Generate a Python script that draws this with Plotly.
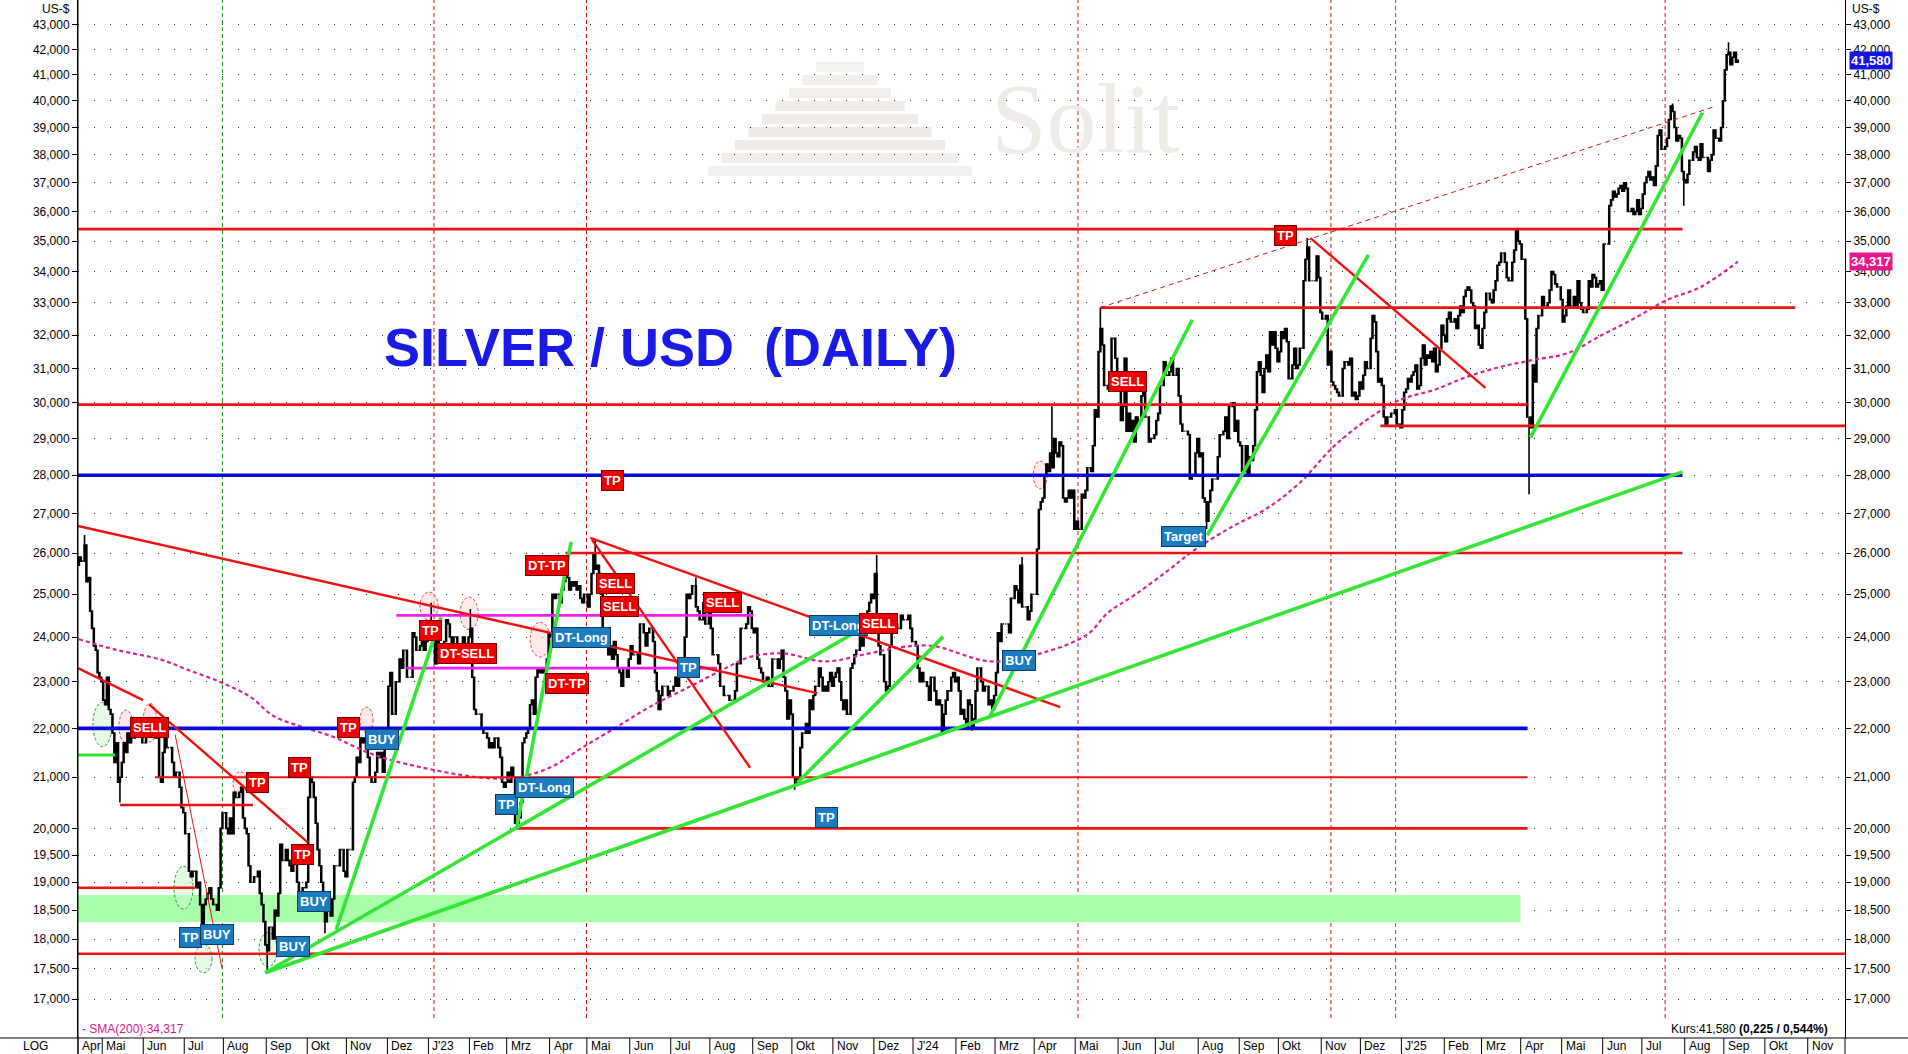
import numpy as np
import pandas as pd
import plotly.graph_objects as go

FONT = "Liberation Sans, Arial, Helvetica, sans-serif"

# ---------------- daily closes (US$/oz), one value per weekday ----------------
closes_2022 = [
    25.9, 25.8, 25.8, 26.2, 25.3, 25.4, 24.6, 24.2, 23.8, 23.7, 23.2, 23.1, 23.0,
    22.6, 22.5, 23.1, 22.4, 22.3, 21.9, 21.3, 21.7, 20.9, 21.0, 21.3, 21.7, 21.5, 21.9, 21.7, 21.8, 21.8, 22.0, 22.0, 22.2, 22.1, 21.7,
    21.7, 22.2, 22.0, 22.1, 22.1, 22.1, 21.8, 21.9, 21.0, 20.9, 21.5, 21.9, 21.6, 21.6, 21.6, 21.3, 21.0, 21.1, 21.1, 20.8, 20.4, 20.3,
    19.9, 19.9, 19.2, 19.1, 19.2, 19.2, 18.9, 19.0, 18.6, 18.2, 18.6, 18.7, 18.8, 18.9, 18.7, 18.6, 18.6, 18.5, 18.9, 20.0, 20.3,
    20.3, 20.0, 19.9, 20.2, 19.9, 20.7, 20.6, 20.6, 20.7, 20.8, 20.2, 20.0, 19.9, 19.3, 19.0, 19.0, 19.1, 19.1, 19.2, 18.8, 18.6, 18.3, 17.9,
    17.8, 18.2, 18.2, 18.0, 18.5, 18.4, 18.8, 19.7, 19.4, 19.4, 19.6, 19.4, 19.3, 19.2, 19.6, 19.6, 19.0, 18.5, 18.6, 18.9, 18.9, 19.0,
    20.6, 21.0, 20.9, 20.6, 20.1, 19.6, 19.3, 19.0, 18.8, 18.3, 18.8, 18.7, 18.4, 18.7, 19.3, 19.3, 19.3, 19.6, 19.6, 19.2, 19.1,
    19.6, 19.6, 19.6, 20.9, 21.0, 21.4, 21.3, 21.8, 21.7, 21.8, 21.6, 21.4, 21.0, 20.9, 20.9, 21.1, 21.5, 21.4, 21.5, 21.1, 21.6, 22.0,
    22.9, 23.2, 22.3, 22.3, 23.0, 23.0, 23.5, 23.3, 23.7, 23.7, 23.1, 23.1, 23.1, 24.1, 24.0, 23.7, 23.7, 23.8, 24.1, 23.7, 23.9, 24.0,
]
closes_2023 = [
    24.1, 24.3, 24.0, 23.4, 23.9, 23.8, 23.7, 23.5, 23.9, 24.4, 24.3, 24.0, 23.7, 24.0, 24.0, 23.7, 23.7, 23.7, 24.0, 23.7, 23.7, 24.0,
    24.2, 23.1, 22.4, 22.3, 22.3, 22.3, 22.0, 21.9, 21.9, 21.8, 21.6, 21.7, 21.6, 21.8, 21.8, 21.6, 21.4, 20.9, 20.8, 20.9,
    21.1, 20.9, 21.2, 21.0, 20.1, 20.1, 20.2, 20.5, 21.7, 21.8, 21.9, 22.0, 22.5, 22.6, 22.3, 23.1, 23.3, 23.2, 23.3, 23.2, 23.3, 23.5, 24.1,
    24.0, 25.0, 24.9, 25.0, 25.0, 24.8, 25.1, 25.3, 25.7, 25.4, 25.1, 25.3, 25.2, 25.3, 25.1, 25.2, 24.9, 24.8, 25.0, 25.0,
    24.7, 25.0, 25.5, 26.0, 25.6, 25.7, 25.5, 25.0, 23.9, 23.8, 23.9, 23.6, 23.8, 23.5, 23.9, 23.6, 23.3, 23.2, 22.9, 23.3, 23.3, 23.1, 23.5,
    23.8, 23.6, 23.6, 23.6, 23.4, 24.3, 24.3, 24.1, 23.8, 24.1, 24.2, 24.2, 23.9, 23.2, 22.8, 22.4, 22.7, 22.9, 22.9, 22.9, 22.7, 22.8,
    22.8, 22.9, 23.1, 22.9, 23.1, 23.1, 23.1, 24.0, 25.0, 24.9, 25.0, 25.2, 25.2, 24.7, 24.6, 24.4, 24.4, 24.8, 24.3, 24.3, 24.7,
    24.2, 23.6, 23.6, 23.6, 23.4, 22.9, 22.9, 22.7, 22.7, 22.7, 22.6, 22.6, 22.6, 22.8, 23.4, 23.4, 24.2, 24.2, 24.2, 24.3, 24.7, 24.6, 24.2,
    24.1, 24.2, 23.5, 23.3, 23.2, 23.0, 23.0, 23.1, 22.9, 22.9, 23.5, 23.5, 23.5, 23.3, 23.5, 23.7, 23.1, 22.8, 22.2, 22.6, 22.3,
    21.0, 21.0, 20.9, 21.0, 21.6, 21.9, 21.9, 22.1, 21.9, 22.6, 22.4, 22.7, 22.9, 22.9, 23.3, 23.1, 22.8, 22.9, 22.8, 23.0, 23.2, 22.9,
    23.1, 23.2, 23.3, 23.0, 22.6, 22.4, 22.6, 22.3, 22.3, 23.3, 23.4, 23.6, 23.7, 23.7, 24.0, 23.8, 24.0, 24.3, 24.6, 24.8, 25.0, 24.9,
    25.5, 24.4, 23.8, 23.6, 23.6, 23.0, 22.8, 22.9, 23.8, 24.1, 24.1, 24.3, 24.2, 24.2, 24.5, 24.4, 24.4, 24.4, 24.5, 24.2, 23.9,
]
closes_2024 = [
    23.9, 23.8, 23.3, 23.0, 23.2, 23.0, 23.0, 22.9, 22.6, 23.1, 23.1, 22.8, 22.5, 22.6, 22.5, 21.9, 22.3, 22.6, 22.8, 22.8, 23.1, 23.2, 23.0,
    23.1, 22.8, 22.3, 22.4, 22.2, 22.0, 22.6, 22.5, 22.0, 22.2, 22.8, 23.3, 23.3, 23.0, 22.8, 22.9, 22.9, 22.5, 22.6, 22.4, 22.7,
    23.2, 24.1, 23.9, 24.3, 24.3, 24.3, 24.3, 24.1, 24.9, 24.9, 25.2, 25.1, 24.8, 25.7, 24.7, 24.7, 24.7, 24.4, 24.6, 25.0, 25.0,
    25.0, 26.1, 27.1, 27.3, 27.4, 28.0, 28.3, 28.1, 28.6, 28.2, 29.0, 28.6, 28.5, 28.9, 28.8, 27.4, 27.3, 27.4, 27.6, 27.4, 27.6, 26.6,
    26.8, 26.6, 26.6, 27.5, 27.4, 27.6, 28.2, 28.2, 28.1, 28.8, 29.8, 29.6, 31.5, 32.2, 31.7, 30.5, 30.5, 30.4, 30.9, 31.9, 31.9, 31.3, 30.4,
    30.4, 29.5, 29.9, 31.3, 29.2, 29.7, 29.2, 29.5, 28.9, 29.6, 29.4, 29.5, 30.2, 30.9, 29.6, 29.6, 28.9, 29.0, 29.0, 29.1,
    29.5, 29.7, 30.5, 30.5, 31.2, 30.8, 30.8, 30.9, 31.3, 30.8, 30.8, 31.0, 30.2, 29.4, 29.2, 29.2, 29.2, 29.1, 27.9, 28.0, 28.0, 28.6, 29.0,
    28.5, 28.6, 27.4, 27.3, 26.8, 27.3, 27.6, 27.9, 27.9, 27.9, 28.5, 29.1, 29.1, 29.2, 29.6, 29.0, 29.9, 29.9, 30.0, 29.2, 29.5, 28.9,
    28.8, 28.1, 28.1, 28.8, 28.0, 28.5, 28.4, 28.8, 29.8, 30.9, 31.2, 30.8, 30.3, 31.0, 31.4, 30.9, 32.1, 31.7, 32.1, 31.6, 31.2,
    31.5, 32.1, 31.9, 32.2, 31.8, 30.7, 30.7, 31.1, 31.6, 31.0, 31.1, 31.6, 31.6, 33.7, 34.4, 34.8, 33.7, 33.7, 33.7, 33.7, 34.5, 33.8, 32.7,
    32.5, 32.5, 32.6, 31.1, 31.5, 30.6, 30.5, 30.4, 30.3, 30.2, 30.2, 31.0, 31.2, 31.2, 31.1, 31.3, 30.2, 30.3, 30.1, 30.2, 30.6,
    30.4, 30.8, 31.2, 31.0, 31.0, 31.9, 32.6, 32.4, 31.5, 30.6, 30.7, 30.5, 29.6, 29.4, 29.6, 29.6, 29.7, 29.7, 29.8, 29.4, 29.4, 29.3,
]
closes_2025 = [
    29.8, 30.3, 30.4, 30.7, 30.6, 30.8, 30.9, 31.1, 30.4, 30.5, 31.3, 31.7, 31.1, 31.4, 31.3, 31.5, 31.2, 31.6, 30.9, 31.1, 31.6, 32.3, 32.0,
    31.8, 32.5, 32.7, 32.4, 32.4, 32.5, 32.2, 32.6, 32.9, 32.7, 33.2, 33.4, 33.5, 33.4, 33.0, 32.9, 32.2, 32.3, 31.7, 31.6,
    32.2, 32.7, 33.3, 33.3, 33.1, 33.0, 33.4, 33.7, 34.2, 34.3, 34.6, 34.6, 34.3, 33.8, 33.7, 33.7, 34.3, 34.7, 35.4, 35.0, 34.9,
    34.4, 34.4, 32.5, 29.6, 29.6, 29.3, 31.1, 30.6, 32.2, 32.6, 32.6, 33.2, 32.9, 32.9, 33.0, 33.4, 34.0, 33.9, 33.6, 33.5, 33.5, 33.1,
    32.4, 32.6, 32.9, 33.4, 32.9, 32.9, 33.2, 32.9, 33.7, 33.0, 32.8, 32.7, 32.7, 32.8, 33.7, 33.5, 33.9, 33.8, 33.5, 33.6, 33.7, 33.4,
    34.9, 34.9, 34.9, 36.2, 36.4, 36.7, 36.5, 36.6, 36.8, 36.9, 36.7, 37.0, 36.8, 36.0, 36.0, 36.1, 35.9, 36.0, 36.4, 35.9, 36.1,
    36.6, 37.0, 37.2, 37.4, 37.1, 37.2, 36.9, 37.6, 38.7, 38.9, 38.2, 38.2, 38.3, 38.6, 39.3, 39.8, 39.6, 39.0, 38.5, 38.7, 38.6, 37.4, 37.1,
    37.0, 37.3, 37.8, 37.8, 38.1, 38.3, 37.9, 37.8, 38.4, 37.9, 37.9, 37.9, 37.4, 37.8, 38.0, 38.9, 38.6, 38.6, 38.5, 39.0, 40.0,
    41.2, 41.8, 41.9, 41.4, 41.7, 41.9, 41.5, 41.58,
]
first_open = 25.7
wick_high = {"2022-04-18": 26.45, "2023-01-03": 24.8, "2023-02-01": 24.65, "2023-05-05": 26.35,
             "2023-07-20": 25.4, "2023-12-04": 25.95, "2024-03-21": 25.9, "2024-04-12": 29.9,
             "2024-05-20": 32.85, "2024-10-22": 35.1, "2025-03-28": 35.45, "2025-07-23": 39.9,
             "2025-09-03": 42.3}
wick_low = {"2022-05-13": 20.5, "2022-07-14": 18.1, "2022-09-01": 17.45, "2022-10-14": 18.1,
            "2023-03-08": 20.0, "2023-10-03": 20.75, "2024-01-22": 21.9, "2024-02-13": 21.95,
            "2024-08-07": 26.6, "2025-04-07": 27.5, "2025-07-31": 36.2}

# SMA(200): (trading day number, value)
sma200_day = [0, 20, 44, 58, 76, 92, 104, 119, 136, 155, 172, 214, 234, 253, 270, 289, 306, 328, 347, 360,
              378, 400, 423, 441, 458, 489, 516, 541, 552, 566, 584, 598, 619, 637, 655, 673, 691, 709, 727, 745,
              763, 780, 799, 816, 834, 852, 870, 890]
sma200_val = [23.95, 23.71, 23.49, 23.27, 22.99, 22.67, 22.27, 22.04, 21.83, 21.50, 21.30, 21.00, 20.99, 21.20, 21.60,
              22.04, 22.45, 22.90, 23.30, 23.55, 23.63, 23.45, 23.62, 23.77, 23.80, 23.45, 23.63, 24.06, 24.56, 24.97,
              25.56, 26.06, 26.67, 27.12, 27.80, 28.77, 29.52, 30.09, 30.37, 30.76, 31.05, 31.25, 31.46, 31.97, 32.50,
              33.09, 33.50, 34.317]

last_price = 41.58
last_change = 0.225
last_change_pct = 0.544
sma_last = 34.317

y_tick_values = [17.0, 17.5, 18.0, 18.5, 19.0, 19.5, 20.0] + [float(v) for v in range(21, 44)]
month_abbr = {1: "J'", 2: "Feb", 3: "Mrz", 4: "Apr", 5: "Mai", 6: "Jun", 7: "Jul", 8: "Aug",
              9: "Sep", 10: "Okt", 11: "Nov", 12: "Dez"}

# drawn levels: (price, from day, to day)
red_levels = [(35.40, -0.5, 860.3), (32.85, 548.0, 920.8), (29.95, -0.5, 777.2), (29.35, 698.2, 947.5),
              (26.00, 261.0, 860.3), (20.00, 234.5, 777.2), (20.45, 22.0, 93.4), (18.90, -0.5, 62.3),
              (17.75, -0.5, 947.5)]
red_minor_levels = [(21.00, 40.8, 777.2)]
blue_levels = [(28.00, -0.5, 860.3), (22.00, -0.5, 777.2)]
magenta_levels = [(24.50, 170.3, 361.9), (23.30, 175.7, 342.3)]
green_levels = [(21.45, -0.5, 19.4)]
green_band = (18.29, 18.77, -0.5, 773.4)
# trend lines: (day0, price0, day1, price1)
red_trends = [(-0.5, 23.30, 34.4, 22.60), (37.6, 22.51, 122.9, 19.73), (-0.5, 26.68, 396.1, 22.75),
              (274.3, 26.38, 526.5, 22.45), (275.3, 26.33, 360.1, 21.19), (660.7, 35.10, 754.6, 30.43)]
red_thin_trends = [(51.6, 21.87, 76.8, 17.50)]
red_dashed_trends = [(548.0, 32.85, 876.9, 39.77)]
green_trends = [(99.9, 17.43, 416.5, 24.11), (99.9, 17.43, 860.3, 28.09), (138.0, 18.16, 194.3, 24.46),
                (235.1, 20.06, 264.1, 26.28), (385.4, 20.89, 463.7, 24.01), (488.9, 22.27, 597.3, 32.47),
                (605.4, 26.45, 691.8, 34.54), (778.7, 29.02, 871.0, 39.55)]
red_vlines = [190.5, 272.3, 536.0, 671.7, 851.0]
green_vlines = [77.0, 706.4]
# highlight ellipses: (day0, day1, price low, price high)
green_ellipses = [(7.5, 17.7, 21.62, 22.55), (51.0, 61.2, 18.52, 19.29), (62.3, 71.4, 17.43, 17.91),
                  (96.6, 106.3, 17.53, 18.11)]
red_ellipses = [(21.5, 29.0, 21.70, 22.39), (34.4, 41.9, 21.72, 22.53), (82.7, 90.2, 20.65, 21.11),
                (150.8, 157.8, 21.91, 22.45), (183.0, 192.7, 24.39, 25.05), (204.5, 214.2, 24.17, 24.93),
                (242.1, 252.8, 23.55, 24.34), (512.0, 519.5, 27.64, 28.38)]
# signal labels: (day, price, text, kind)
labels = [
    (37.6, 22.02, "SELL", "r"), (95.6, 20.90, "TP", "r"), (118.6, 21.19, "TP", "r"), (144.4, 22.02, "TP", "r"),
    (162.6, 21.77, "BUY", "b"), (119.7, 19.51, "TP", "r"), (126.1, 18.66, "BUY", "b"), (114.9, 17.87, "BUY", "b"),
    (60.1, 18.02, "TP", "b"), (74.1, 18.08, "BUY", "b"), (188.4, 24.15, "TP", "r"), (208.3, 23.62, "DT-SELL", "r"),
    (251.2, 25.69, "DT-TP", "r"), (269.4, 23.99, "DT-Long", "b"), (261.9, 22.96, "DT-TP", "r"),
    (287.7, 25.25, "SELL", "r"), (289.8, 24.70, "SELL", "r"), (345.1, 24.81, "SELL", "r"), (326.9, 23.31, "TP", "b"),
    (407.4, 24.27, "DT-Long", "b"), (428.8, 24.31, "SELL", "r"), (229.2, 20.47, "TP", "b"),
    (249.6, 20.79, "DT-Long", "b"), (400.9, 20.20, "TP", "b"), (286.1, 27.85, "TP", "r"),
    (504.5, 23.48, "BUY", "b"), (562.5, 30.63, "SELL", "r"), (592.5, 26.41, "Target", "b"),
    (647.2, 35.17, "TP", "r"),
]

# ---------------- build ----------------
closes = closes_2022 + closes_2023 + closes_2024 + closes_2025
axis_days = pd.bdate_range("2022-04-13", "2025-11-28")
dates = axis_days[:len(closes)]
day = np.arange(len(closes))
opens = np.array([first_open] + closes[:-1])
close_arr = np.array(closes)
highs = np.maximum(opens, close_arr)
lows = np.minimum(opens, close_arr)
pos = {d.strftime("%Y-%m-%d"): i for i, d in enumerate(dates)}
for k, v in wick_high.items():
    highs[pos[k]] = max(highs[pos[k]], v)
for k, v in wick_low.items():
    lows[pos[k]] = min(lows[pos[k]], v)

X_MIN, X_MAX = -0.5, len(axis_days) - 0.5
PLOT_H = 1038.0
Y_RANGE = [np.log10(16.38), np.log10(44.036)]
tick_text = [f"{v:.3f}".replace(".", ",") for v in y_tick_values]

RED = "#ee1111"
BLUE = "#0a0ad8"
GREEN = "#33e633"
MAGENTA = "#f01ef0"
SMA_COL = "#d8248f"

fig = go.Figure()
fig.add_trace(go.Candlestick(
    x=day, open=opens, high=highs, low=lows, close=close_arr,
    increasing=dict(line=dict(color="black", width=1.6), fillcolor="white"),
    decreasing=dict(line=dict(color="black", width=1.6), fillcolor="black"),
    whiskerwidth=0, hoverinfo="skip", showlegend=False))
fig.add_trace(go.Scatter(x=sma200_day, y=sma200_val, mode="lines", line_shape="spline",
                         line=dict(color=SMA_COL, width=2.2, dash="4px,3px"),
                         hoverinfo="skip", showlegend=False))
fig.add_trace(go.Scatter(x=[0], y=[20], yaxis="y2", mode="markers", marker=dict(opacity=0),
                         hoverinfo="skip", showlegend=False))

shapes = []
# vertical dashed markers
for d in red_vlines:
    shapes.append(dict(type="line", xref="x", yref="paper", x0=d, x1=d, y0=20 / PLOT_H, y1=1,
                       line=dict(color="#d01010", width=1, dash="4px,3px"), layer="between"))
for d in green_vlines:
    shapes.append(dict(type="line", xref="x", yref="paper", x0=d, x1=d, y0=20 / PLOT_H, y1=1,
                       line=dict(color="#139a13", width=1, dash="4px,3px"), layer="between"))
# green zone
shapes.append(dict(type="rect", xref="x", yref="y", x0=green_band[2], x1=green_band[3],
                   y0=green_band[0], y1=green_band[1], fillcolor="#aaffaa", line=dict(width=0), layer="between"))
for (d0, d1, p0, p1) in green_ellipses:
    shapes.append(dict(type="circle", xref="x", yref="y", x0=d0, x1=d1, y0=p0, y1=p1,
                       fillcolor="rgba(205,245,205,0.55)", line=dict(color="#2a9a2a", width=1, dash="3px,2px"),
                       layer="between"))
for (d0, d1, p0, p1) in red_ellipses:
    shapes.append(dict(type="circle", xref="x", yref="y", x0=d0, x1=d1, y0=p0, y1=p1,
                       fillcolor="rgba(250,215,215,0.55)", line=dict(color="#d84848", width=1, dash="3px,2px"),
                       layer="between"))


def add_levels(levels, color, width):
    for (p, d0, d1) in levels:
        shapes.append(dict(type="line", xref="x", yref="y", x0=d0, x1=d1, y0=p, y1=p,
                           line=dict(color=color, width=width), layer="above"))


def add_trends(trends, color, width, dash="solid"):
    for (d0, p0, d1, p1) in trends:
        shapes.append(dict(type="line", xref="x", yref="y", x0=d0, x1=d1, y0=p0, y1=p1,
                           line=dict(color=color, width=width, dash=dash), layer="above"))


add_levels(red_levels, RED, 2.6)
add_levels(red_minor_levels, RED, 2)
add_levels(blue_levels, BLUE, 3.6)
add_levels(magenta_levels, MAGENTA, 2.6)
add_levels(green_levels, GREEN, 3)
add_trends(red_trends, RED, 2.4)
add_trends(red_thin_trends, RED, 1)
add_trends(red_dashed_trends, "#c81818", 1, "5px,4px")
add_trends(green_trends, GREEN, 3.6)

# x-axis strip: month separators
n_axis = len(axis_days)
month_starts = [0] + [i for i in range(1, n_axis) if axis_days[i].month != axis_days[i - 1].month]
strip = 16 / PLOT_H
for m in month_starts + [n_axis]:
    xp = m / n_axis
    shapes.append(dict(type="line", xref="paper", yref="paper", x0=xp, x1=xp, y0=0, y1=-strip,
                       line=dict(color="black", width=1)))
shapes.append(dict(type="line", xref="paper", yref="paper", x0=-78 / 1767, x1=1830 / 1767, y0=0, y1=0,
                   line=dict(color="black", width=1)))
shapes.append(dict(type="line", xref="paper", yref="paper", x0=0, x1=0, y0=-strip, y1=1,
                   line=dict(color="black", width=1)))

# watermark pyramid (decorative, very light stepped slabs)
slab_cols = ["#f4f2f0", "#f2f0ed", "#f1eeeb", "#f0ede9", "#efebe8", "#eeeae6", "#efebe8", "#f1eeeb", "#f3f1ef"]
for i, col in enumerate(slab_cols):
    top = 62 + i * 13
    half = 24 + i * 13.5
    shapes.append(dict(type="rect", xref="paper", yref="paper",
                       x0=(840 - half - 78) / 1767, x1=(840 + half - 78) / 1767,
                       y0=1 - (top + 10) / PLOT_H, y1=1 - top / PLOT_H,
                       fillcolor=col, line=dict(width=0), layer="below"))

annotations = []
annotations.append(dict(xref="paper", yref="paper", x=(1085 - 78) / 1767, y=1 - 118 / PLOT_H,
                        text="Solit", showarrow=False, xanchor="center", yanchor="middle",
                        font=dict(family="Liberation Serif, Times New Roman, serif", size=100, color="#efebe7")))
annotations.append(dict(xref="paper", yref="paper", x=(670 - 78) / 1767, y=1 - 347 / PLOT_H,
                        text="<b>SILVER / USD&nbsp; (DAILY)</b>", showarrow=False, xanchor="center",
                        yanchor="middle", font=dict(family=FONT, size=54, color="#1a1ae6")))
for (d, p, t, k) in labels:
    bg, bd = ("#ee0000", "#7a0000") if k == "r" else ("#1b7cc0", "#0b3a60")
    annotations.append(dict(xref="x", yref="y", x=d, y=np.log10(p), text=f"<b>{t}</b>", showarrow=False,
                            xanchor="center", yanchor="middle", bgcolor=bg, bordercolor=bd, borderwidth=1,
                            borderpad=2, font=dict(family=FONT, size=13, color="white")))
for m in month_starts:
    d = axis_days[m]
    txt = month_abbr[d.month] + (d.strftime("%y") if d.month == 1 else "")
    annotations.append(dict(xref="x", yref="paper", x=m - 0.5, y=-8 / PLOT_H, text=txt, showarrow=False,
                            xanchor="left", yanchor="middle", xshift=2,
                            font=dict(family=FONT, size=12, color="black")))
annotations.append(dict(xref="paper", yref="paper", x=-43 / 1767, y=-8 / PLOT_H, text="LOG", showarrow=False,
                        xanchor="center", yanchor="middle", font=dict(family=FONT, size=12, color="black")))
annotations.append(dict(xref="paper", yref="paper", x=0, y=1, text="US-$", showarrow=False, xanchor="right",
                        yanchor="top", xshift=-6, font=dict(family=FONT, size=12, color="black")))
annotations.append(dict(xref="paper", yref="paper", x=1, y=1, text="US-$", showarrow=False, xanchor="left",
                        yanchor="top", xshift=5, font=dict(family=FONT, size=12, color="black")))
annotations.append(dict(xref="paper", yref="paper", x=0, y=9 / PLOT_H,
                        text=f"- SMA(200):{sma_last:.3f}".replace(".", ","), showarrow=False,
                        xanchor="left", yanchor="middle", xshift=2,
                        font=dict(family=FONT, size=12, color="#e0148c")))
kurs = (f"Kurs:{last_price:.3f} <b>({last_change:.3f} / {last_change_pct:.3f}%)</b>").replace(".", ",")
annotations.append(dict(xref="paper", yref="paper", x=(1830 - 78) / 1767, y=9 / PLOT_H, text=kurs,
                        showarrow=False, xanchor="right", yanchor="middle",
                        font=dict(family=FONT, size=12, color="black")))
annotations.append(dict(xref="paper", yref="y", x=1, y=np.log10(last_price),
                        text=f"<b>{last_price:.3f}</b>".replace(".", ","), showarrow=False, xanchor="left",
                        yanchor="middle", xshift=4, bgcolor="#1414e0", borderpad=1,
                        font=dict(family=FONT, size=13, color="white")))
annotations.append(dict(xref="paper", yref="y", x=1, y=np.log10(sma_last),
                        text=f"<b>{sma_last:.3f}</b>".replace(".", ","), showarrow=False, xanchor="left",
                        yanchor="middle", xshift=4, bgcolor="#e8168c", borderpad=1,
                        font=dict(family=FONT, size=13, color="white")))

yaxis_common = dict(type="log", range=Y_RANGE, tickmode="array", tickvals=y_tick_values, ticktext=tick_text,
                    ticks="outside", ticklen=5, tickcolor="black", showline=True, linecolor="black",
                    linewidth=1, tickfont=dict(family=FONT, size=12, color="black"), zeroline=False,
                    fixedrange=True)
fig.update_layout(
    width=1908, height=1054,
    margin=dict(l=78, r=63, t=0, b=16),
    paper_bgcolor="white", plot_bgcolor="white",
    showlegend=False,
    xaxis=dict(range=[X_MIN, X_MAX], showgrid=False, zeroline=False, showticklabels=False, ticks="",
               showline=False, rangeslider=dict(visible=False), fixedrange=True),
    yaxis=dict(side="left", showgrid=True, gridcolor="#222222", gridwidth=1, griddash="1px,15px",
               **yaxis_common),
    yaxis2=dict(side="right", overlaying="y", anchor="x", showgrid=False, **yaxis_common),
    shapes=shapes,
    annotations=annotations,
)

fig.write_html("out.html", config={"displayModeBar": False},
               post_script="document.body.style.margin='0px';document.body.style.overflow='hidden';")
